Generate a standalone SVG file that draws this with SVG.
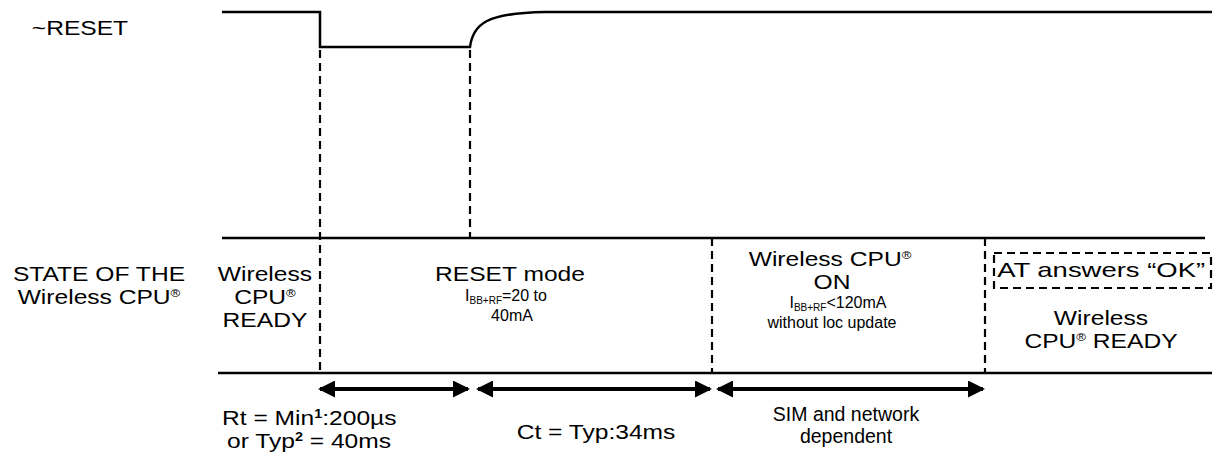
<svg xmlns="http://www.w3.org/2000/svg" width="1214" height="458" viewBox="0 0 1214 458">
<style>
text{font-family:"Liberation Sans",Arial,sans-serif;fill:#000}
.t{font-size:20.5px}
.m{font-size:19.5px}
.s{font-size:16px}
.sub{font-size:10px}
.reg{font-size:11px}
.sup{font-size:12px;font-weight:bold}
.solid{stroke:#000;stroke-width:2.5;fill:none}
.dash{stroke:#000;stroke-width:2.2;fill:none;stroke-dasharray:8,5}
.arr{stroke:#000;stroke-width:4;fill:none;marker-start:url(#ah);marker-end:url(#ah)}
</style>
<defs>
<marker id="ah" viewBox="0 0 17 17" refX="15" refY="8.5" markerWidth="17" markerHeight="17" markerUnits="userSpaceOnUse" orient="auto-start-reverse">
<path d="M0,0 L17,8.5 L0,17 Z" fill="#000"/>
</marker>
</defs>
<g id="waveform">
<path class="solid" d="M222,12 H320 V47 H470 C473,24 486,13 545,12 H1212"/>
</g>
<g id="connectors">
<line class="solid" x1="222" y1="238" x2="1205" y2="238"/>
<line class="solid" x1="218" y1="373" x2="1212" y2="373"/>
<line class="dash" x1="320" y1="50" x2="320" y2="373"/>
<line class="dash" x1="470" y1="50" x2="470" y2="238"/>
<line class="dash" x1="712" y1="238" x2="712" y2="373"/>
<line class="dash" x1="985" y1="238" x2="985" y2="373"/>
<line class="arr" x1="320" y1="389" x2="468" y2="389"/>
<line class="arr" x1="478" y1="389" x2="710" y2="389"/>
<line class="arr" x1="718" y1="389" x2="983" y2="389"/>
</g>
<g id="label-reset"><text class="t" transform="scale(1.2 1)" x="26.5" y="35">~RESET</text></g>
<g id="label-state">
<text class="t" transform="scale(1.2 1)" x="82.5" y="281" text-anchor="middle">STATE OF THE</text>
<text class="t" transform="scale(1.2 1)" x="82.5" y="304" text-anchor="middle">Wireless CPU<tspan class="reg" dy="-7">®</tspan></text>
</g>
<g id="state-ready1">
<text class="t" transform="scale(1.2 1)" x="220.8" y="281" text-anchor="middle">Wireless</text>
<text class="t" transform="scale(1.2 1)" x="220.8" y="304" text-anchor="middle">CPU<tspan class="reg" dy="-7">®</tspan></text>
<text class="t" transform="scale(1.2 1)" x="220.8" y="327" text-anchor="middle">READY</text>
</g>
<g id="state-reset">
<text class="t" transform="scale(1.2 1)" x="425" y="281" text-anchor="middle">RESET mode</text>
<text class="s" x="506" y="301" text-anchor="middle">I<tspan class="sub" dy="3">BB+RF</tspan><tspan dy="-3">=20 to</tspan></text>
<text class="s" x="512" y="321" text-anchor="middle">40mA</text>
</g>
<g id="state-on">
<text class="t" transform="scale(1.2 1)" x="691.7" y="266" text-anchor="middle">Wireless CPU<tspan class="reg" dy="-7">®</tspan></text>
<text class="t" transform="scale(1.2 1)" x="693.3" y="289" text-anchor="middle">ON</text>
<text class="s" x="838" y="308" text-anchor="middle">I<tspan class="sub" dy="3">BB+RF</tspan><tspan dy="-3">&lt;120mA</tspan></text>
<text class="s" x="832" y="328" text-anchor="middle">without loc update</text>
</g>
<g id="state-ready2">
<rect class="dash" x="994" y="253" width="217" height="35"/>
<text class="t" transform="scale(1.2 1)" x="831" y="277" textLength="173.3" lengthAdjust="spacingAndGlyphs">AT answers “OK”</text>
<text class="t" transform="scale(1.2 1)" x="917.5" y="325" text-anchor="middle">Wireless</text>
<text class="t" transform="scale(1.2 1)" x="917.5" y="348" text-anchor="middle">CPU<tspan class="reg" dy="-7">®</tspan><tspan dy="7"> READY</tspan></text>
</g>
<g id="label-rt">
<text class="t" transform="scale(1.2 1)" x="185" y="425">Rt = Min<tspan class="sup" dy="-7">1</tspan><tspan dy="7">:200µs</tspan></text>
<text class="t" transform="scale(1.2 1)" x="189.2" y="448">or Typ<tspan class="sup" dy="-7">2</tspan><tspan dy="7"> = 40ms</tspan></text>
</g>
<g id="label-ct"><text class="t" transform="scale(1.2 1)" x="496.7" y="439" text-anchor="middle">Ct = Typ:34ms</text></g>
<g id="label-sim">
<text class="m" x="846" y="421" text-anchor="middle">SIM and network</text>
<text class="m" x="846" y="443" text-anchor="middle">dependent</text>
</g>
</svg>
